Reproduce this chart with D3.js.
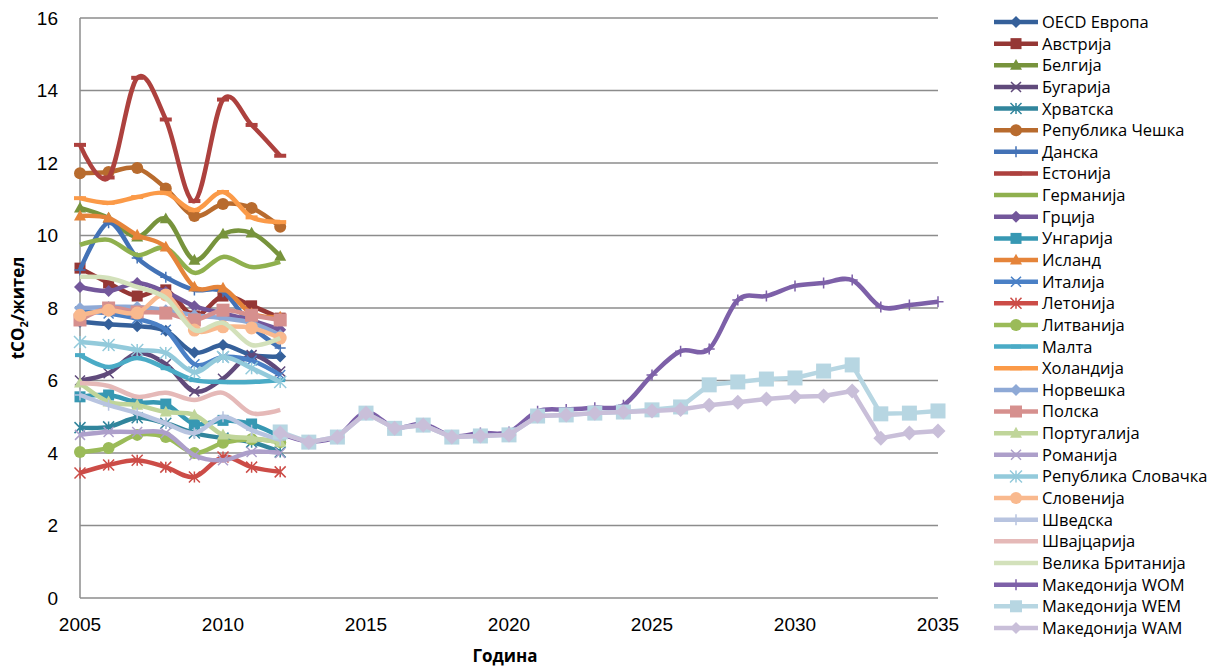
<!DOCTYPE html>
<html>
<head>
<meta charset="utf-8">
<script src="https://cdn.jsdelivr.net/npm/d3@7"></script>
<style>
  body { margin: 0; background: #fff; }
  svg { display: block; }
</style>
</head>
<body>
<div id="chart"></div>
<script>
// years
const years = [2005, 2006, 2007, 2008, 2009, 2010, 2011, 2012];
const projYears = [2012, 2013, 2014, 2015, 2016, 2017, 2018, 2019, 2020, 2021, 2022, 2023,
  2024, 2025, 2026, 2027, 2028, 2029, 2030, 2031, 2032, 2033, 2034, 2035];

// tCO2 per inhabitant
const oecdEurope = [7.62, 7.55, 7.5, 7.37, 6.77, 6.98, 6.7, 6.66];
const austria = [9.1, 8.69, 8.33, 8.5, 7.78, 8.33, 8.06, 7.72];
const belgium = [10.76, 10.48, 9.96, 10.46, 9.32, 10.04, 10.07, 9.43];
const bulgaria = [6.0, 6.2, 6.75, 6.45, 5.7, 6.05, 6.7, 6.25];
const croatia = [4.7, 4.72, 4.97, 4.82, 4.55, 4.41, 4.3, 4.03];
const czech = [11.72, 11.75, 11.86, 11.3, 10.54, 10.87, 10.76, 10.24];
const denmark = [9.05, 10.35, 9.38, 8.85, 8.5, 8.45, 7.5, 6.9];
const estonia = [12.5, 11.6, 14.35, 13.2, 10.95, 13.75, 13.05, 12.2];
const germany = [9.74, 9.88, 9.46, 9.66, 8.97, 9.41, 9.13, 9.27];
const greece = [8.58, 8.47, 8.69, 8.44, 8.05, 7.85, 7.65, 7.4];
const hungary = [5.55, 5.6, 5.4, 5.35, 4.8, 4.9, 4.8, 4.45];
const iceland = [10.54, 10.48, 10.01, 9.68, 8.58, 8.55, 7.85, 7.75];
const italy = [7.9, 7.85, 7.7, 7.4, 6.45, 6.65, 6.55, 6.15];
const latvia = [3.45, 3.67, 3.8, 3.61, 3.34, 3.89, 3.61, 3.48];
const lithuania = [4.03, 4.14, 4.5, 4.44, 4.0, 4.28, 4.38, 4.3];
const malta = [6.7, 6.37, 6.62, 6.34, 6.01, 5.96, 5.96, 6.01];
const netherlands = [11.03, 10.9, 11.06, 11.17, 10.7, 11.2, 10.5, 10.37];
const norway = [8.0, 8.03, 8.03, 7.94, 7.8, 7.72, 7.59, 7.25];
const poland = [7.67, 8.0, 7.89, 7.86, 7.67, 7.94, 7.8, 7.67];
const portugal = [5.93, 5.41, 5.32, 5.13, 5.05, 4.5, 4.41, 4.3];
const romania = [4.5, 4.58, 4.58, 4.55, 3.94, 3.8, 4.03, 4.0];
const slovakia = [7.06, 6.98, 6.84, 6.76, 6.23, 6.65, 6.34, 5.96];
const slovenia = [7.8, 7.94, 7.86, 8.36, 7.39, 7.48, 7.45, 7.17];
const sweden = [5.6, 5.32, 5.1, 4.82, 4.55, 5.0, 4.63, 4.36];
const switzerland = [5.93, 5.85, 5.55, 5.66, 5.46, 5.66, 5.1, 5.19];
const uk = [8.86, 8.83, 8.58, 8.28, 7.39, 7.59, 6.98, 7.17];
const mkWom = [4.55, 4.32, 4.46, 5.12, 4.7, 4.8, 4.47, 4.55, 4.58, 5.15, 5.2, 5.25,
  5.32, 6.15, 6.81, 6.87, 8.22, 8.33, 8.61, 8.69, 8.77, 8.03, 8.08, 8.17];
const mkWem = [4.58, 4.3, 4.44, 5.1, 4.68, 4.77, 4.44, 4.47, 4.5, 5.02, 5.05, 5.1,
  5.13, 5.19, 5.27, 5.88, 5.96, 6.04, 6.07, 6.26, 6.43, 5.08, 5.1, 5.16];
const mkWam = [4.55, 4.3, 4.44, 5.1, 4.68, 4.77, 4.44, 4.47, 4.5, 5.02, 5.05, 5.1,
  5.13, 5.16, 5.2, 5.32, 5.4, 5.49, 5.55, 5.57, 5.71, 4.41, 4.55, 4.61];

const xTicks = [2005, 2010, 2015, 2020, 2025, 2030, 2035];
const yTicks = [0, 2, 4, 6, 8, 10, 12, 14, 16];

// name, years, values
const series = [
  ["OECD Европа", years, oecdEurope],
  ["Австрија", years, austria],
  ["Белгија", years, belgium],
  ["Бугарија", years, bulgaria],
  ["Хрватска", years, croatia],
  ["Република Чешка", years, czech],
  ["Данска", years, denmark],
  ["Естонија", years, estonia],
  ["Германија", years, germany],
  ["Грција", years, greece],
  ["Унгарија", years, hungary],
  ["Исланд", years, iceland],
  ["Италија", years, italy],
  ["Летонија", years, latvia],
  ["Литванија", years, lithuania],
  ["Малта", years, malta],
  ["Холандија", years, netherlands],
  ["Норвешка", years, norway],
  ["Полска", years, poland],
  ["Португалија", years, portugal],
  ["Романија", years, romania],
  ["Република Словачка", years, slovakia],
  ["Словенија", years, slovenia],
  ["Шведска", years, sweden],
  ["Швајцарија", years, switzerland],
  ["Велика Британија", years, uk],
  ["Македонија WOM", projYears, mkWom],
  ["Македонија WEM", projYears, mkWem],
  ["Македонија WAM", projYears, mkWam]
];

// colour, marker, smooth, marker size
const styles = [
  ["#35609a", "diamond", true, 12],
  ["#953735", "square", true, 11],
  ["#77933c", "triangle", true, 12],
  ["#604a7b", "x", true, 10],
  ["#31859c", "star", true, 11],
  ["#b86b2e", "circle", true, 12],
  ["#4372b6", "plus", true, 11],
  ["#ad413e", "dash", true, 12],
  ["#8fb04e", "none", true, 0],
  ["#73579b", "diamond", true, 12],
  ["#3798b3", "square", true, 11],
  ["#e5843a", "triangle", true, 12],
  ["#4a80c6", "x", true, 10],
  ["#cc4c47", "star", true, 11],
  ["#9bbb59", "circle", true, 12],
  ["#4aabc6", "dash", true, 10],
  ["#fb9a48", "dash", true, 12],
  ["#8ea9d6", "diamond", true, 12],
  ["#d6908e", "square", true, 13],
  ["#c0d59a", "triangle", true, 12],
  ["#ad9fca", "x", true, 10],
  ["#93cadb", "star", true, 12],
  ["#f9b98e", "circle", true, 13],
  ["#b8c4e0", "plus", true, 11],
  ["#e5b9b8", "none", true, 0],
  ["#d3e1bb", "none", true, 0],
  ["#7d60a8", "plus", true, 11],
  ["#b7d6e2", "square", false, 15],
  ["#c9bfd9", "diamond", false, 15]
];

const W = 1216, H = 666;
const margin = ({ top: 18, right: 278, bottom: 68, left: 80 });

const svg = d3.select("#chart").append("svg")
  .attr("width", W)
  .attr("height", H);

const x = d3.scaleLinear().domain([2005, 2035]).range([margin.left, W - margin.right]);
const y = d3.scaleLinear().domain([0, 16]).range([H - margin.bottom, margin.top]);

const tickFont = "'Liberation Sans Narrow', 'Liberation Sans', sans-serif";
const textFont = "'Open Sans', 'Liberation Sans', sans-serif";

// gridlines
svg.append("g")
  .selectAll("line")
  .data(yTicks)
  .enter().append("line")
  .attr("x1", x(2005)).attr("x2", x(2035))
  .attr("y1", d => y(d)).attr("y2", d => y(d))
  .attr("stroke", "#8c8c8c")
  .attr("stroke-width", 1.5);

svg.append("line")
  .attr("x1", x(2005)).attr("x2", x(2005))
  .attr("y1", y(0)).attr("y2", y(16))
  .attr("stroke", "#8c8c8c")
  .attr("stroke-width", 1.5);

// tick labels
svg.append("g")
  .selectAll("text")
  .data(yTicks)
  .enter().append("text")
  .attr("x", margin.left - 22)
  .attr("y", d => y(d))
  .attr("dy", "0.36em")
  .attr("text-anchor", "end")
  .attr("font-family", tickFont)
  .attr("font-size", 19)
  .attr("fill", "#000")
  .text(d => d);

svg.append("g")
  .selectAll("text")
  .data(xTicks)
  .enter().append("text")
  .attr("x", d => x(d))
  .attr("y", y(0) + 33)
  .attr("text-anchor", "middle")
  .attr("font-family", tickFont)
  .attr("font-size", 19)
  .attr("fill", "#000")
  .text(d => d);

// axis titles
svg.append("text")
  .attr("x", 505)
  .attr("y", 662)
  .attr("text-anchor", "middle")
  .attr("font-family", textFont)
  .attr("font-weight", "bold")
  .attr("font-size", 17)
  .text("Година");

const yTitle = svg.append("text")
  .attr("transform", "translate(24," + y(8) + ")rotate(-90)")
  .attr("text-anchor", "middle")
  .attr("font-family", textFont)
  .attr("font-weight", "bold")
  .attr("font-size", 17);
yTitle.append("tspan").text("tCO");
yTitle.append("tspan").attr("font-size", 11).attr("dy", 4).text("2");
yTitle.append("tspan").attr("dy", -4).text("/жител");

// markers
function drawMarker(g, type, color, size, cx, cy) {
  if (type === "none") return;
  const h = size / 2;
  if (type === "square") {
    g.append("rect").attr("x", cx - h).attr("y", cy - h)
      .attr("width", size).attr("height", size).attr("fill", color);
  } else if (type === "diamond") {
    g.append("path").attr("d", `M${cx},${cy - h}L${cx + h},${cy}L${cx},${cy + h}L${cx - h},${cy}Z`)
      .attr("fill", color);
  } else if (type === "triangle") {
    g.append("path").attr("d", `M${cx},${cy - h * 1.05}L${cx + h},${cy + h * 0.75}L${cx - h},${cy + h * 0.75}Z`)
      .attr("fill", color);
  } else if (type === "circle") {
    g.append("circle").attr("cx", cx).attr("cy", cy).attr("r", h).attr("fill", color);
  } else if (type === "x") {
    g.append("path").attr("d", `M${cx - h},${cy - h}L${cx + h},${cy + h}M${cx - h},${cy + h}L${cx + h},${cy - h}`)
      .attr("stroke", color).attr("stroke-width", 1.5).attr("fill", "none");
  } else if (type === "star") {
    g.append("path").attr("d", `M${cx - h},${cy - h}L${cx + h},${cy + h}M${cx - h},${cy + h}L${cx + h},${cy - h}M${cx},${cy - h}L${cx},${cy + h}`)
      .attr("stroke", color).attr("stroke-width", 1.5).attr("fill", "none");
  } else if (type === "plus") {
    g.append("path").attr("d", `M${cx - h},${cy}L${cx + h},${cy}M${cx},${cy - h}L${cx},${cy + h}`)
      .attr("stroke", color).attr("stroke-width", 1.5).attr("fill", "none");
  } else if (type === "dash") {
    g.append("path").attr("d", `M${cx - h},${cy}L${cx + h},${cy}`)
      .attr("stroke", color).attr("stroke-width", 4).attr("fill", "none");
  }
}

// lines
const plot = svg.append("g");
series.forEach(function (s, i) {
  const st = styles[i];
  const pts = s[1].map((yr, j) => [yr, s[2][j]]);
  const line = d3.line()
    .x(d => x(d[0]))
    .y(d => y(d[1]))
    .curve(st[2] ? d3.curveCatmullRom.alpha(0) : d3.curveLinear);
  const g = plot.append("g");
  g.append("path")
    .attr("d", line(pts))
    .attr("fill", "none")
    .attr("stroke", st[0])
    .attr("stroke-width", 4.5)
    .attr("stroke-linejoin", "round");
  pts.forEach(p => drawMarker(g, st[1], st[0], st[3], x(p[0]), y(p[1])));
});

// legend
const legend = svg.append("g");
const rowH = 21.64;
series.forEach(function (s, i) {
  const st = styles[i];
  const ly = 22 + i * rowH;
  const g = legend.append("g");
  g.append("line")
    .attr("x1", 994).attr("x2", 1038)
    .attr("y1", ly).attr("y2", ly)
    .attr("stroke", st[0])
    .attr("stroke-width", 4.5);
  drawMarker(g, st[1], st[0], Math.min(st[3], 12), 1016, ly);
  g.append("text")
    .attr("x", 1042)
    .attr("y", ly)
    .attr("dy", "0.36em")
    .attr("font-family", textFont)
    .attr("font-size", 16.5)
    .attr("fill", "#000")
    .text(s[0]);
});
</script>
</body>
</html>
